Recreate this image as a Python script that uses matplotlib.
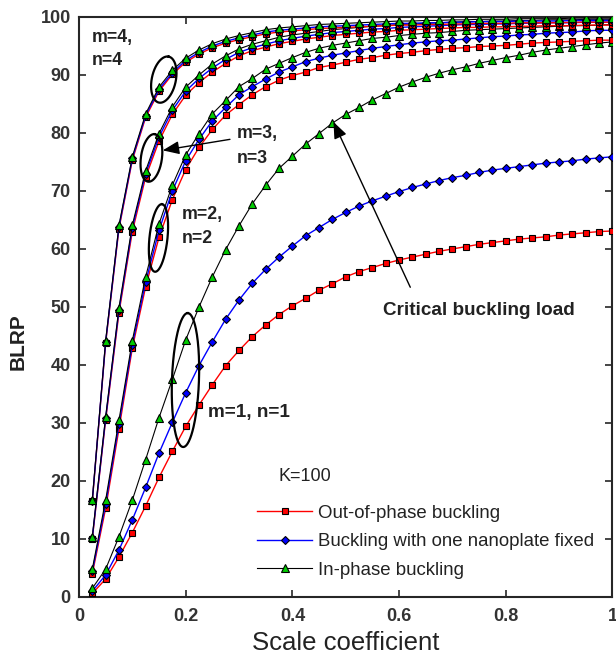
import matplotlib
matplotlib.use('Agg')
import matplotlib.pyplot as plt
import numpy as np
from matplotlib.lines import Line2D

plt.rcParams['font.family'] = ['Liberation Sans', 'DejaVu Sans']

# ---------------- data ----------------
scale_coeff = [0.025, 0.05, 0.075, 0.1, 0.125, 0.15, 0.175, 0.2, 0.225, 0.25,
               0.275, 0.3, 0.325, 0.35, 0.375, 0.4, 0.425, 0.45, 0.475, 0.5,
               0.525, 0.55, 0.575, 0.6, 0.625, 0.65, 0.675, 0.7, 0.725, 0.75,
               0.775, 0.8, 0.825, 0.85, 0.875, 0.9, 0.925, 0.95, 0.975, 1.0]

# m=1, n=1
out_phase_m1 = [0.6, 3.1, 6.9, 11.1, 15.7, 20.6, 25.1, 29.4, 33.1, 36.6,
                39.9, 42.5, 44.9, 46.9, 48.7, 50.2, 51.5, 52.9, 54.0, 55.2,
                56.1, 56.8, 57.5, 58.1, 58.6, 59.1, 59.6, 60.0, 60.4, 60.8,
                61.1, 61.4, 61.7, 61.9, 62.1, 62.4, 62.6, 62.8, 63.0, 63.1]
one_fixed_m1 = [1.0, 3.8, 8.1, 13.3, 18.9, 24.8, 30.1, 35.2, 39.9, 44.0,
                47.9, 51.2, 54.1, 56.5, 58.6, 60.5, 62.3, 63.7, 65.1, 66.3,
                67.4, 68.3, 69.1, 69.9, 70.6, 71.2, 71.8, 72.3, 72.7, 73.2,
                73.6, 73.9, 74.2, 74.5, 74.8, 75.0, 75.2, 75.5, 75.7, 75.9]
in_phase_m1 = [1.5, 4.8, 10.4, 16.7, 23.7, 30.9, 37.5, 44.3, 50.0, 55.2,
               59.9, 64.0, 67.8, 71.0, 73.9, 76.0, 78.1, 79.9, 81.7, 83.2,
               84.4, 85.7, 86.8, 87.9, 88.8, 89.6, 90.3, 90.9, 91.4, 92.0,
               92.5, 93.0, 93.4, 93.9, 94.3, 94.6, 94.9, 95.2, 95.5, 95.7]

# m=2, n=2
out_phase_m2 = [4.0, 15.3, 29.0, 42.9, 53.5, 62.0, 68.5, 73.7, 77.5, 80.6,
                83.1, 84.9, 86.6, 88.0, 89.1, 89.9, 90.5, 91.3, 91.7, 92.2,
                92.7, 93.0, 93.4, 93.7, 93.9, 94.2, 94.4, 94.6, 94.7, 94.9,
                95.0, 95.1, 95.3, 95.5, 95.6, 95.7, 95.8, 95.9, 96.0, 96.0]
one_fixed_m2 = [4.4, 16.0, 29.8, 43.5, 54.3, 63.2, 70.0, 75.2, 78.9, 82.1,
                84.4, 86.6, 88.0, 89.3, 90.5, 91.4, 92.3, 92.9, 93.4, 93.8,
                94.2, 94.6, 94.9, 95.2, 95.5, 95.7, 95.9, 96.0, 96.2, 96.4,
                96.6, 96.7, 96.9, 97.0, 97.2, 97.3, 97.4, 97.6, 97.7, 97.7]
in_phase_m2 = [4.8, 16.7, 30.5, 44.2, 55.2, 64.3, 71.0, 76.2, 79.9, 83.3,
               85.6, 88.0, 89.4, 91.0, 92.0, 93.0, 93.9, 94.6, 95.1, 95.5,
               95.9, 96.3, 96.5, 96.8, 97.0, 97.2, 97.3, 97.5, 97.7, 97.8,
               97.9, 98.0, 98.1, 98.2, 98.3, 98.4, 98.5, 98.5, 98.6, 98.7]

# m=3, n=3
out_phase_m3 = [10.0, 30.5, 49.0, 63.0, 72.4, 78.6, 83.2, 86.5, 88.7, 90.5,
                92.0, 93.3, 94.2, 94.8, 95.4, 95.8, 96.2, 96.5, 96.8, 97.0,
                97.2, 97.4, 97.5, 97.7, 97.8, 97.9, 98.0, 98.1, 98.2, 98.2,
                98.3, 98.3, 98.4, 98.4, 98.5, 98.5, 98.5, 98.6, 98.6, 98.6]
one_fixed_m3 = [10.2, 30.8, 49.5, 63.6, 73.0, 79.3, 83.9, 87.2, 89.4, 91.2,
                92.7, 93.9, 94.7, 95.3, 95.9, 96.3, 96.7, 97.0, 97.3, 97.5,
                97.7, 97.9, 98.0, 98.2, 98.3, 98.4, 98.5, 98.6, 98.7, 98.7,
                98.8, 98.8, 98.9, 98.9, 99.0, 99.0, 99.0, 99.1, 99.1, 99.1]
in_phase_m3 = [10.4, 31.1, 49.9, 64.1, 73.5, 79.9, 84.5, 87.9, 90.0, 91.9,
               93.3, 94.5, 95.3, 95.9, 96.5, 96.9, 97.2, 97.5, 97.8, 98.0,
               98.2, 98.4, 98.5, 98.7, 98.8, 98.9, 99.0, 99.1, 99.2, 99.2,
               99.3, 99.3, 99.4, 99.4, 99.5, 99.5, 99.5, 99.6, 99.6, 99.6]

# m=4, n=4
out_phase_m4 = [16.5, 43.8, 63.5, 75.3, 82.7, 87.2, 90.1, 92.2, 93.6, 94.7,
                95.5, 96.1, 96.6, 97.1, 97.4, 97.6, 97.8, 98.0, 98.1, 98.2,
                98.3, 98.4, 98.5, 98.6, 98.6, 98.7, 98.7, 98.8, 98.8, 98.9,
                98.9, 98.9, 99.0, 99.0, 99.0, 99.0, 99.1, 99.1, 99.1, 99.1]
one_fixed_m4 = [16.6, 44.0, 63.8, 75.6, 83.0, 87.5, 90.4, 92.5, 93.9, 95.0,
                95.8, 96.4, 96.9, 97.4, 97.7, 97.9, 98.1, 98.3, 98.4, 98.5,
                98.6, 98.7, 98.8, 98.9, 98.9, 99.0, 99.0, 99.1, 99.1, 99.2,
                99.2, 99.2, 99.3, 99.3, 99.3, 99.3, 99.4, 99.4, 99.4, 99.4]
in_phase_m4 = [16.7, 44.2, 64.1, 75.9, 83.3, 87.9, 90.8, 92.9, 94.3, 95.4,
               96.2, 96.8, 97.3, 97.8, 98.1, 98.3, 98.5, 98.7, 98.8, 98.9,
               99.0, 99.1, 99.2, 99.3, 99.3, 99.4, 99.4, 99.5, 99.5, 99.6,
               99.6, 99.6, 99.7, 99.7, 99.7, 99.7, 99.8, 99.8, 99.8, 99.8]

legend_labels = ['Out-of-phase buckling',
                 'Buckling with one nanoplate fixed',
                 'In-phase buckling']
x_ticks = [0, 0.2, 0.4, 0.6, 0.8, 1.0]
x_tick_labels = ['0', '0.2', '0.4', '0.6', '0.8', '1']
y_ticks = [0, 10, 20, 30, 40, 50, 60, 70, 80, 90, 100]

# ---------------- figure ----------------
FW, FH, DPI = 6.16, 6.6, 100
AX_POS = [0.1282, 0.0955, 0.8661, 0.8788]
fig = plt.figure(figsize=(FW, FH), dpi=DPI)
ax = fig.add_axes(AX_POS)
ax.set_xlim(0, 1)
ax.set_ylim(0, 100)

px_x = AX_POS[2] * FW * DPI / 1.0     # pixels per data unit (x)
px_y = AX_POS[3] * FH * DPI / 100.0   # pixels per data unit (y)

red_style = dict(color='#ff0000', lw=1.0, marker='s', ms=4.4,
                 mfc='#ff0000', mec='black', mew=0.8)
blue_style = dict(color='#0000ff', lw=1.0, marker='D', ms=4.4,
                  mfc='#0000ff', mec='black', mew=0.8)
green_style = dict(color='black', lw=0.8, marker='^', ms=5.3,
                   mfc='#00cc00', mec='black', mew=0.8)

groups = [(out_phase_m1, one_fixed_m1, in_phase_m1),
          (out_phase_m2, one_fixed_m2, in_phase_m2),
          (out_phase_m3, one_fixed_m3, in_phase_m3),
          (out_phase_m4, one_fixed_m4, in_phase_m4)]
z = 3
for r, b, g in groups:
    ax.plot(scale_coeff, r, zorder=z, **red_style)
    ax.plot(scale_coeff, b, zorder=z + 1, **blue_style)
    ax.plot(scale_coeff, g, zorder=z + 2, **green_style)
    z += 3

# axes styling
for sp in ax.spines.values():
    sp.set_linewidth(1.5)
    sp.set_color('#262626')
ax.set_xticks(x_ticks)
ax.set_xticklabels(x_tick_labels)
ax.set_yticks(y_ticks)
ax.tick_params(direction='in', top=True, right=True, length=5, width=1.2,
               color='#262626', labelsize=13, labelcolor='#333333')
ax.tick_params(axis='x', pad=8)
ax.tick_params(axis='y', pad=6)
for lab in ax.get_xticklabels() + ax.get_yticklabels():
    lab.set_fontweight('bold')

ax.set_xlabel('Scale coefficient', fontsize=18.5, color='#222222', labelpad=4)
ax.set_ylabel('BLRP', fontsize=15, fontweight='bold', color='#222222')
ax.yaxis.set_label_coords(-0.097, 0.441)

# ellipses (annotation shapes, sized in pixels)
def draw_ellipse(cx, cy, w_px, h_px, ang_deg):
    t = np.linspace(0, 2 * np.pi, 200)
    a, b = h_px / 2.0, w_px / 2.0
    ca, sa = np.cos(np.radians(ang_deg)), np.sin(np.radians(ang_deg))
    dx = a * np.cos(t) * ca - b * np.sin(t) * sa
    dy = a * np.cos(t) * sa + b * np.sin(t) * ca
    ax.plot(cx + dx / px_x, cy + dy / px_y, color='black', lw=1.6,
            zorder=30, clip_on=False)

draw_ellipse(0.159, 89.2, 24, 47, 78)
draw_ellipse(0.1358, 75.7, 21, 48, 82)
draw_ellipse(0.149, 61.9, 18, 68, 84)
draw_ellipse(0.1996, 37.4, 27, 134, 88)

# labels
tkw = dict(fontsize=12.8, fontweight='bold', color='#222222', va='baseline',
           ha='left', zorder=40)
ax.text(0.0238, 95.7, 'm=4,', **tkw)
ax.text(0.0238, 91.7, 'n=4', **tkw)
ax.text(0.2956, 79.1, 'm=3,', **tkw)
ax.text(0.2956, 74.9, 'n=3', **tkw)
ax.text(0.1925, 65.1, 'm=2,', **tkw)
ax.text(0.1925, 61.1, 'n=2', **tkw)
tkw2 = dict(tkw, fontsize=13.6)
ax.text(0.2424, 31.1, 'm=1, n=1', **tkw2)
ax.text(0.5704, 48.6, 'Critical buckling load', **tkw2)
ax.text(0.3736, 20.0, 'K=100', fontsize=13, color='#222222', va='baseline',
        ha='left', zorder=40)

# arrows
ax.annotate('', xy=(0.157, 77.0), xytext=(0.283, 78.9),
            arrowprops=dict(arrowstyle='-|>,head_length=1.0,head_width=0.4',
                            color='black', lw=1.0, shrinkA=0, shrinkB=0),
            zorder=40)
ax.annotate('', xy=(0.477, 81.9), xytext=(0.621, 53.4),
            arrowprops=dict(arrowstyle='-|>,head_length=1.0,head_width=0.4',
                            color='black', lw=1.0, shrinkA=0, shrinkB=0),
            zorder=40)

# legend
handles = [Line2D([], [], **red_style),
           Line2D([], [], **blue_style),
           Line2D([], [], **green_style)]
leg = ax.legend(handles, legend_labels, loc='center left',
                bbox_to_anchor=(0.333, 0.0953), frameon=False, fontsize=13.4,
                handlelength=3.0, handletextpad=0.3, labelspacing=0.62,
                borderpad=0, borderaxespad=0)
for t in leg.get_texts():
    t.set_color('#222222')

fig.savefig('out.png', dpi=DPI)
